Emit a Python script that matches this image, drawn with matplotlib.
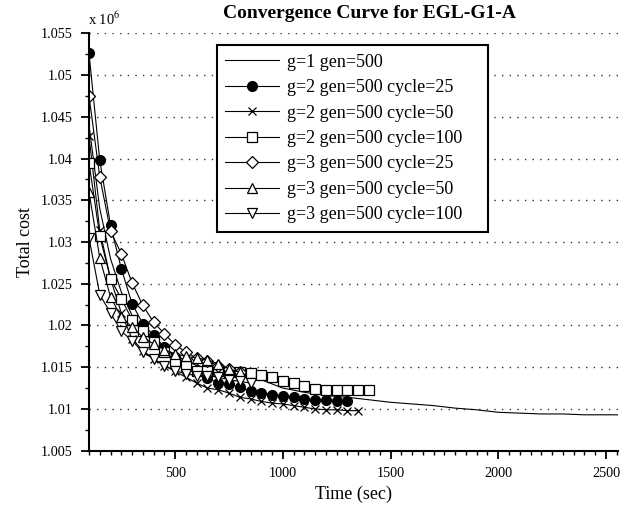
import matplotlib
matplotlib.use("Agg")
import matplotlib.pyplot as plt
from matplotlib.ticker import MultipleLocator, FuncFormatter

plt.rcParams['font.family'] = ['Liberation Serif', 'DejaVu Serif']
plt.rcParams['mathtext.fontset'] = 'stix'

# values (cost in units of 10^6, time in sec)
t_g1 = [100, 150, 200, 250, 300, 350, 400, 450, 500, 600, 700, 800, 900, 1000,
        1100, 1200, 1300, 1400, 1500, 1600, 1700, 1800, 1900, 2000, 2100, 2200,
        2300, 2400, 2555]
c_g1 = [1.0440, 1.0340, 1.0280, 1.0240, 1.0212, 1.0195, 1.0182, 1.0172, 1.0164,
        1.0152, 1.0145, 1.0140, 1.0135, 1.0125, 1.0120, 1.0116, 1.0114, 1.0111,
        1.0108, 1.0106, 1.0104, 1.0101, 1.0099, 1.0096, 1.0095, 1.0094, 1.0094,
        1.0093, 1.0093]

t_c25 = list(range(100, 1301, 50))
c_c25 = [1.0526, 1.0398, 1.0320, 1.0268, 1.0226, 1.0202, 1.0188, 1.0174, 1.0162,
         1.0156, 1.0147, 1.0137, 1.0131, 1.0130, 1.0126, 1.0121, 1.0119, 1.0117,
         1.0115, 1.0114, 1.0112, 1.0111, 1.0111, 1.0110, 1.0110]

t_c50 = list(range(100, 1351, 50))
c_c50 = [1.0427, 1.0314, 1.0256, 1.0215, 1.0184, 1.0170, 1.0160, 1.0152, 1.0145,
         1.0138, 1.0131, 1.0125, 1.0123, 1.0119, 1.0114, 1.0112, 1.0109, 1.0107,
         1.0106, 1.0104, 1.0102, 1.0100, 1.0099, 1.0099, 1.0098, 1.0098]

t_c100 = list(range(100, 1401, 50))
c_c100 = [1.0395, 1.0307, 1.0256, 1.0232, 1.0207, 1.0193, 1.0180, 1.0168, 1.0158,
          1.0152, 1.0146, 1.0145, 1.0145, 1.0144, 1.0144, 1.0143, 1.0141, 1.0138,
          1.0134, 1.0131, 1.0127, 1.0124, 1.0123, 1.0123, 1.0123, 1.0123, 1.0123]

t_g3c25 = list(range(100, 801, 50))
c_g3c25 = [1.0475, 1.0378, 1.0313, 1.0286, 1.0251, 1.0224, 1.0204, 1.0190, 1.0177,
           1.0168, 1.0161, 1.0157, 1.0152, 1.0148, 1.0144]

t_g3c50 = list(range(100, 801, 50))
c_g3c50 = [1.0360, 1.0281, 1.0234, 1.0210, 1.0198, 1.0186, 1.0178, 1.0171, 1.0166,
           1.0163, 1.0161, 1.0159, 1.0154, 1.0148, 1.0144]

t_g3c100 = list(range(100, 851, 50))
c_g3c100 = [1.0305, 1.0237, 1.0215, 1.0193, 1.0182, 1.0168, 1.0160, 1.0152, 1.0146,
            1.0142, 1.0140, 1.0140, 1.0138, 1.0135, 1.0133, 1.0131]

labels = ['g=1 gen=500', 'g=2 gen=500 cycle=25', 'g=2 gen=500 cycle=50',
          'g=2 gen=500 cycle=100', 'g=3 gen=500 cycle=25', 'g=3 gen=500 cycle=50',
          'g=3 gen=500 cycle=100']

fig = plt.figure(figsize=(6.42, 5.08), dpi=100)
ax = fig.add_axes([89/642, 1-450.7/508, 529/642, 417.4/508])

lw = 0.8
ax.plot(t_g1, c_g1, color='black', lw=lw, label=labels[0])
ax.plot(t_c25, c_c25, color='black', lw=lw, marker='o', ms=7, mfc='black', label=labels[1])
ax.plot(t_c50, c_c50, color='black', lw=lw, marker='x', ms=6, mew=0.9, label=labels[2])
ax.plot(t_c100, c_c100, color='black', lw=lw, marker='s', ms=6.5, mfc='white', mew=0.9, label=labels[3])
ax.plot(t_g3c25, c_g3c25, color='black', lw=lw, marker='D', ms=6, mfc='white', mew=0.9, label=labels[4])
ax.plot(t_g3c50, c_g3c50, color='black', lw=lw, marker='^', ms=7.5, mfc='white', mew=0.9, label=labels[5])
ax.plot(t_g3c100, c_g3c100, color='black', lw=lw, marker='v', ms=7.5, mfc='white', mew=0.9, label=labels[6])

ax.set_xlim(100, 2556)
ax.set_ylim(1.005, 1.055)
ax.xaxis.set_major_locator(MultipleLocator(500))
ax.xaxis.set_minor_locator(MultipleLocator(50))
ax.yaxis.set_major_locator(MultipleLocator(0.005))
ax.yaxis.set_minor_locator(MultipleLocator(0.0025))
ax.yaxis.set_major_formatter(FuncFormatter(lambda v, p: '%g' % round(v, 4)))
ax.xaxis.set_major_formatter(FuncFormatter(lambda v, p: '%d' % v))

ax.tick_params(which='major', direction='out', length=6, width=1.3, labelsize=10.3, pad=6)
ax.tick_params(which='minor', direction='out', length=3, width=1.0)
for s in ['top', 'right']:
    ax.spines[s].set_visible(False)
for s in ['left', 'bottom']:
    ax.spines[s].set_linewidth(1.5)

ax.grid(axis='y', which='major', color='#333333', linestyle=(0, (1, 4.5)), linewidth=1.0)
ax.set_axisbelow(True)

ax.set_xlabel('Time (sec)', fontsize=13, labelpad=4)
ax.set_ylabel('Total cost', fontsize=13, labelpad=5)
fig.text(370/642, 1-13/508, 'Convergence Curve for EGL-G1-A', fontsize=14,
         fontweight='bold', ha='center', va='center')
fig.text(88/642, 1-19/508, r'x 10$^{6}$', fontsize=10.5, ha='left', va='center')

# legend box stretched to the width seen in the reference
leg = ax.legend(loc='upper left', bbox_to_anchor=(0.242, 0.0, 0.512, 0.971),
                mode='expand', fontsize=13, handlelength=3.0, labelspacing=0.47,
                borderpad=0.45, handletextpad=0.4, fancybox=False, framealpha=1,
                borderaxespad=0)
leg.get_frame().set_edgecolor('black')
leg.get_frame().set_linewidth(1.5)

fig.savefig('out.png', dpi=100)
